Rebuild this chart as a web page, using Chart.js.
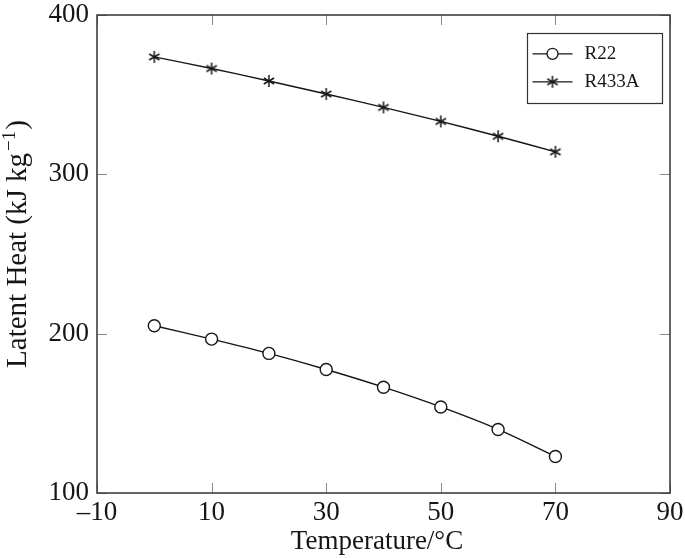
<!DOCTYPE html>
<html>
<head>
<meta charset="utf-8">
<script src="https://cdn.jsdelivr.net/npm/chart.js@4.4.0/dist/chart.umd.min.js"></script>
<style>
  html, body { margin: 0; padding: 0; background: #fff; }
  #wrap { width: 685px; height: 558px; }
</style>
</head>
<body>
<div id="wrap"><canvas id="chart"></canvas></div>
<script>
// Data
const temps = [0, 10, 20, 30, 40, 50, 60, 70];
const r22 = [205.0, 196.6, 187.6, 177.5, 166.4, 154.0, 139.9, 122.9];
const r433a = [373.7, 366.4, 358.6, 350.4, 342.0, 333.2, 323.9, 314.1];
const xTicks = [-10, 10, 30, 50, 70, 90];
const yTicks = [100, 200, 300, 400];

const SERIF = '"Liberation Serif", "DejaVu Serif", serif';
const INK = '#161616';

// six-spoke asterisk marker like pgfplots
function makeAsterisk(size) {
    const c = document.createElement('canvas');
    c.width = c.height = size;
    const g = c.getContext('2d');
    g.strokeStyle = INK;
    g.lineWidth = 1.5;
    const m = size / 2, r = size / 2 - 1;
    for (let i = 0; i < 3; i++) {
        const ang = Math.PI / 2 + i * Math.PI / 3;
        g.beginPath();
        g.moveTo(m + r * Math.cos(ang), m + r * Math.sin(ang));
        g.lineTo(m - r * Math.cos(ang), m - r * Math.sin(ang));
        g.stroke();
    }
    return c;
}
const asterisk = makeAsterisk(14);

function xy(xs, ys) {
    return xs.map((x, i) => ({ x: x, y: ys[i] }));
}

// Frame, inward ticks, legend and axis titles
const framePlugin = {
    id: 'frame',
    afterDatasetsDraw(chart) {
        const { ctx, chartArea: a, scales: { x, y } } = chart;
        ctx.save();

        // inward tick marks on all four sides
        ctx.strokeStyle = '#8a8a8a';
        ctx.lineWidth = 1;
        const tl = 10;
        ctx.beginPath();
        xTicks.forEach(v => {
            const px = Math.round(x.getPixelForValue(v)) + 0.5;
            ctx.moveTo(px, a.bottom); ctx.lineTo(px, a.bottom - tl);
            ctx.moveTo(px, a.top); ctx.lineTo(px, a.top + tl);
        });
        yTicks.forEach(v => {
            const py = Math.round(y.getPixelForValue(v)) + 0.5;
            ctx.moveTo(a.left, py); ctx.lineTo(a.left + tl, py);
            ctx.moveTo(a.right, py); ctx.lineTo(a.right - tl, py);
        });
        ctx.stroke();

        // plot border
        ctx.strokeStyle = '#333';
        ctx.lineWidth = 1.5;
        ctx.strokeRect(a.left, a.top, a.width, a.height);

        // legend box
        const lx = 527.5, ly = 33.5, lw = 135, lh = 70;
        ctx.fillStyle = '#fff';
        ctx.fillRect(lx, ly, lw, lh);
        ctx.strokeStyle = '#333';
        ctx.lineWidth = 1.2;
        ctx.strokeRect(lx, ly, lw, lh);
        const rows = [lh * 0.29, lh * 0.69];
        chart.data.datasets.forEach((ds, i) => {
            const ry = ly + rows[i];
            ctx.strokeStyle = INK;
            ctx.lineWidth = 1.3;
            ctx.beginPath();
            ctx.moveTo(lx + 5, ry);
            ctx.lineTo(lx + 45, ry);
            ctx.stroke();
            if (ds.pointStyle === 'circle') {
                ctx.fillStyle = '#fff';
                ctx.beginPath();
                ctx.arc(lx + 25, ry, 5.5, 0, Math.PI * 2);
                ctx.fill();
                ctx.stroke();
            } else {
                ctx.drawImage(ds.pointStyle, lx + 25 - 7, ry - 7);
            }
            ctx.fillStyle = INK;
            ctx.font = '19px ' + SERIF;
            ctx.textBaseline = 'middle';
            ctx.textAlign = 'left';
            ctx.fillText(ds.label, lx + 57, ry);
        });

        // x axis title
        ctx.fillStyle = INK;
        ctx.font = '27px ' + SERIF;
        ctx.textAlign = 'center';
        ctx.textBaseline = 'alphabetic';
        ctx.fillText('Temperature/\u00B0C', 377, 549);

        // y axis title with superscript
        const main = 'Latent Heat (kJ kg';
        const sup = '\u22121';
        const close = ')';
        ctx.translate(26, 244);
        ctx.rotate(-Math.PI / 2);
        ctx.font = '29px ' + SERIF;
        const w1 = ctx.measureText(main).width;
        const w3 = ctx.measureText(close).width;
        ctx.font = '19px ' + SERIF;
        const w2 = ctx.measureText(sup).width;
        let cx = -(w1 + w2 + w3 + 3) / 2;
        ctx.textAlign = 'left';
        ctx.font = '29px ' + SERIF;
        ctx.fillText(main, cx, 0);
        cx += w1 + 2;
        ctx.font = '19px ' + SERIF;
        ctx.fillText(sup, cx, -11);
        cx += w2 + 1;
        ctx.font = '29px ' + SERIF;
        ctx.fillText(close, cx, 0);

        ctx.restore();
    }
};

const chart = new Chart(document.getElementById('chart').getContext('2d'), {
    type: 'line',
    data: {
        datasets: [
            {
                label: 'R22',
                data: xy(temps, r22),
                borderColor: INK,
                borderWidth: 1.4,
                pointStyle: 'circle',
                pointRadius: 6,
                pointBorderWidth: 1.4,
                pointBorderColor: INK,
                pointBackgroundColor: '#fff',
                tension: 0.3,
                fill: false
            },
            {
                label: 'R433A',
                data: xy(temps, r433a),
                borderColor: INK,
                borderWidth: 1.4,
                pointStyle: asterisk,
                pointRadius: 7,
                tension: 0.3,
                fill: false
            }
        ]
    },
    options: {
        responsive: true,
        maintainAspectRatio: false,
        animation: false,
        layout: { padding: { top: 15, right: 15, left: 0, bottom: 0 } },
        plugins: {
            legend: { display: false },
            tooltip: { enabled: false }
        },
        scales: {
            x: {
                type: 'linear',
                min: -10,
                max: 90,
                grid: { display: false, drawTicks: false },
                border: { display: false },
                afterBuildTicks: scale => { scale.ticks = xTicks.map(v => ({ value: v })); },
                afterFit: scale => {
                    scale.height = 65;
                    scale.paddingLeft = 0;
                    scale.paddingRight = 0;
                },
                ticks: {
                    padding: 4,
                    color: INK,
                    font: { family: SERIF, size: 27 },
                    maxRotation: 0,
                    callback: v => (v < 0 ? '\u2013' + Math.abs(v) : String(v))
                }
            },
            y: {
                type: 'linear',
                min: 100,
                max: 400,
                grid: { display: false, drawTicks: false },
                border: { display: false },
                afterBuildTicks: scale => { scale.ticks = yTicks.map(v => ({ value: v })); },
                afterFit: scale => {
                    scale.width = 97;
                    scale.paddingTop = 0;
                    scale.paddingBottom = 0;
                },
                ticks: {
                    padding: 8,
                    color: INK,
                    font: { family: SERIF, size: 27 }
                }
            }
        }
    },
    plugins: [framePlugin]
});
</script>
</body>
</html>
